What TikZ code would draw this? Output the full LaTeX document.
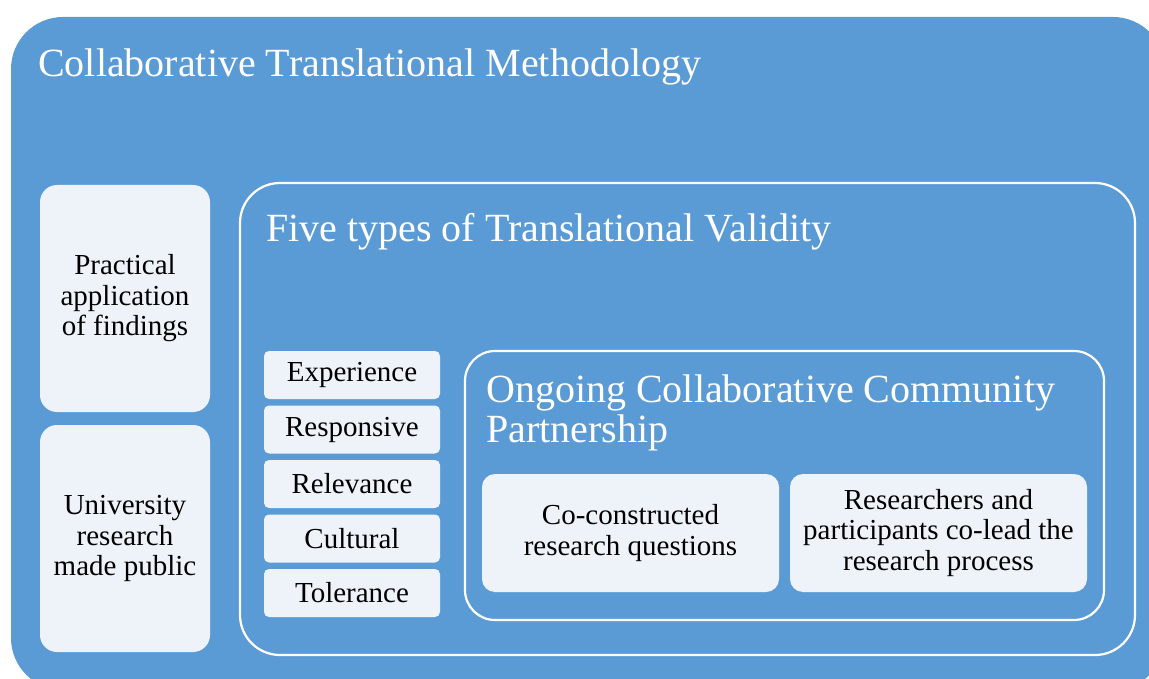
\documentclass[tikz,border=0pt]{standalone}
\usepackage{fontspec}
\setmainfont{Liberation Serif}
\definecolor{mainblue}{RGB}{91,155,213}
\definecolor{lightbox}{RGB}{238,243,250}
\begin{document}
\begin{tikzpicture}[x=1pt,y=-1pt,
  outerbox/.style={fill=mainblue, rounded corners=52pt},
  lbox/.style={fill=lightbox, draw=none, inner sep=0pt, align=center, text=black,
    font=\fontsize{29}{30.5}\selectfont},
  lowered/.style={execute at begin node={\rule{0pt}{33pt}}},
  frame/.style={draw=white, line width=2.2pt, fill=none, inner sep=0pt},
  heading/.style={text=white, inner sep=0pt, anchor=base west, align=left,
    font=\fontsize{40}{39.5}\selectfont}
]
\useasboundingbox (0,0) rectangle (1149,679);
\clip (0,0) rectangle (1149,679);
\fill[white] (0,0) rectangle (1149,679);
\node[outerbox, minimum width=1154pt, minimum height=673pt, inner sep=0pt] (outer) at (588,353.5) {};
\node[heading] (title) at (38,77) {Collaborative Translational Methodology};

\node[lbox, lowered, rounded corners=17pt, minimum width=170pt, minimum height=227pt] (practical) at (125,298.5) {Practical\\application\\of findings};
\node[lbox, lowered, rounded corners=17pt, minimum width=170pt, minimum height=227pt] (university) at (125,538.5) {University\\research\\made public};

\node[frame, rounded corners=40pt, minimum width=895pt, minimum height=472pt] (five) at (687.5,419) {};
\node[heading] (fivetitle) at (266,242) {Five types of Translational Validity};

\node[lbox, rounded corners=5pt, minimum width=176pt, minimum height=48pt] (experience) at (352,375) {Experience};
\node[lbox, rounded corners=5pt, minimum width=176pt, minimum height=48pt] (responsive) at (352,429.5) {Responsive};
\node[lbox, rounded corners=5pt, minimum width=176pt, minimum height=48pt] (relevance) at (352,484) {Relevance};
\node[lbox, rounded corners=5pt, minimum width=176pt, minimum height=48pt] (cultural) at (352,538.5) {Cultural};
\node[lbox, rounded corners=5pt, minimum width=176pt, minimum height=48pt] (tolerance) at (352,593) {Tolerance};

\node[frame, rounded corners=30pt, minimum width=639pt, minimum height=269pt] (ongoing) at (784.5,485.5) {};
\node[heading] (ongoingtitle) at (486,442) {Ongoing Collaborative Community\\Partnership};

\node[lbox, lowered, rounded corners=13pt, minimum width=297pt, minimum height=118pt] (coconstructed) at (630.5,533) {Co-constructed\\research questions};
\node[lbox, lowered, rounded corners=13pt, minimum width=297pt, minimum height=118pt] (colead) at (938.5,533) {Researchers and\\participants co-lead the\\research process};
\end{tikzpicture}
\end{document}
